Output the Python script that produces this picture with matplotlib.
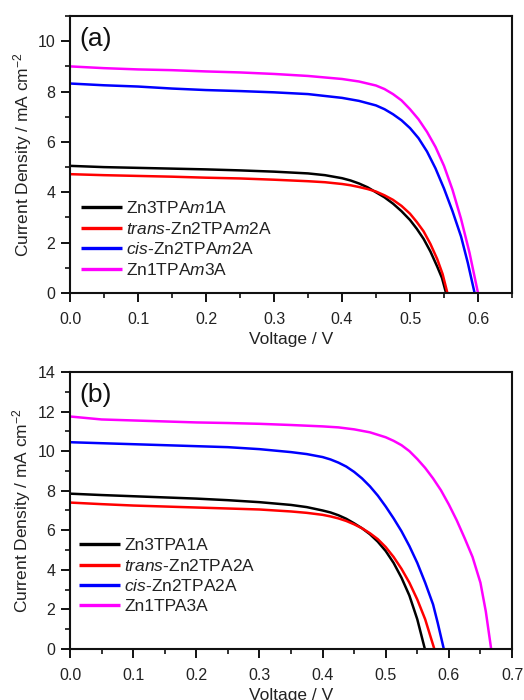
import matplotlib
matplotlib.use("Agg")
import matplotlib.pyplot as plt
from matplotlib.ticker import MultipleLocator

plt.rcParams['font.family'] = ['Liberation Sans', 'DejaVu Sans']
plt.rcParams['mathtext.fontset'] = 'custom'
plt.rcParams['mathtext.rm'] = 'Liberation Sans'
plt.rcParams['mathtext.it'] = 'Liberation Sans:italic'

# ---- Panel (a) data ----
a_labels = [r"Zn3TPA$\it{m}$1A", r"$\it{trans}$-Zn2TPA$\it{m}$2A",
            r"$\it{cis}$-Zn2TPA$\it{m}$2A", r"Zn1TPA$\it{m3}$A"]
a_black_v = [0, 0.05, 0.1, 0.15, 0.2, 0.25, 0.3, 0.35, 0.375, 0.4, 0.4125, 0.425, 0.4375, 0.45, 0.4625,
             0.475, 0.4875, 0.5, 0.51, 0.52, 0.53, 0.54, 0.547, 0.553]
a_black_j = [5.05, 5.0, 4.97, 4.94, 4.91, 4.87, 4.82, 4.75, 4.68, 4.56, 4.47, 4.35, 4.2, 4.0, 3.8,
             3.55, 3.25, 2.9, 2.55, 2.15, 1.65, 1.05, 0.6, 0]
a_red_v = [0, 0.05, 0.1, 0.15, 0.2, 0.25, 0.3, 0.35, 0.375, 0.4, 0.4125, 0.425, 0.4375, 0.45, 0.4625,
           0.475, 0.4875, 0.5, 0.51, 0.52, 0.53, 0.54, 0.548, 0.555]
a_red_j = [4.72, 4.68, 4.65, 4.62, 4.58, 4.55, 4.5, 4.44, 4.4, 4.33, 4.28, 4.21, 4.13, 4.03, 3.88,
           3.7, 3.46, 3.15, 2.82, 2.45, 1.95, 1.35, 0.75, 0]
a_blue_v = [0, 0.05, 0.1, 0.15, 0.2, 0.25, 0.3, 0.35, 0.4, 0.425, 0.45, 0.4625, 0.475, 0.4875, 0.5,
            0.5125, 0.525, 0.5375, 0.55, 0.5625, 0.575, 0.585, 0.595]
a_blue_j = [8.32, 8.25, 8.2, 8.12, 8.06, 8.02, 7.97, 7.9, 7.75, 7.63, 7.45, 7.3, 7.1, 6.86, 6.55,
            6.15, 5.62, 4.95, 4.15, 3.25, 2.25, 1.2, 0]
a_mag_v = [0, 0.05, 0.1, 0.15, 0.2, 0.25, 0.3, 0.35, 0.4, 0.425, 0.45, 0.4625, 0.475, 0.4875, 0.5,
           0.5125, 0.525, 0.5375, 0.55, 0.5625, 0.575, 0.5875, 0.6]
a_mag_j = [9.0, 8.93, 8.88, 8.85, 8.8, 8.76, 8.7, 8.62, 8.5, 8.4, 8.24, 8.1, 7.9, 7.65, 7.3,
           6.9, 6.4, 5.8, 5.05, 4.1, 2.95, 1.6, 0]

# ---- Panel (b) data ----
b_labels = ["Zn3TPA1A", r"$\it{trans}$-Zn2TPA2A", r"$\it{cis}$-Zn2TPA2A", "Zn1TPA3A"]
b_black_v = [0, 0.05, 0.1, 0.15, 0.2, 0.25, 0.3, 0.35, 0.375, 0.4, 0.4125, 0.425, 0.4375, 0.45, 0.4625,
             0.475, 0.4875, 0.5, 0.5125, 0.525, 0.5375, 0.55, 0.562]
b_black_j = [7.85, 7.78, 7.72, 7.66, 7.6, 7.52, 7.42, 7.28, 7.17, 7.0, 6.9, 6.76, 6.58, 6.35, 6.1,
             5.8, 5.42, 4.95, 4.35, 3.6, 2.7, 1.5, 0]
b_red_v = [0, 0.05, 0.1, 0.15, 0.2, 0.25, 0.3, 0.35, 0.375, 0.4, 0.4125, 0.425, 0.4375, 0.45, 0.4625,
           0.475, 0.4875, 0.5, 0.5125, 0.525, 0.5375, 0.55, 0.5625, 0.577]
b_red_j = [7.4, 7.32, 7.25, 7.2, 7.15, 7.1, 7.05, 6.95, 6.88, 6.78, 6.7, 6.6, 6.47, 6.3, 6.1,
           5.85, 5.55, 5.15, 4.65, 4.05, 3.35, 2.5, 1.5, 0]
b_blue_v = [0, 0.05, 0.1, 0.15, 0.2, 0.25, 0.3, 0.35, 0.375, 0.4, 0.4125, 0.425, 0.4375, 0.45, 0.4625,
            0.475, 0.4875, 0.5, 0.5125, 0.525, 0.5375, 0.55, 0.5625, 0.575, 0.5825, 0.592]
b_blue_j = [10.45, 10.4, 10.35, 10.3, 10.25, 10.2, 10.1, 9.95, 9.85, 9.7, 9.58, 9.42, 9.22, 8.95, 8.62,
            8.22, 7.75, 7.2, 6.6, 5.95, 5.2, 4.35, 3.35, 2.25, 1.3, 0]
b_mag_v = [0, 0.05, 0.1, 0.15, 0.2, 0.25, 0.3, 0.35, 0.4, 0.425, 0.45, 0.475, 0.5, 0.5125, 0.525,
           0.5375, 0.55, 0.5625, 0.575, 0.5875, 0.6, 0.6125, 0.625, 0.6375, 0.65, 0.6585, 0.667]
b_mag_j = [11.75, 11.6, 11.55, 11.5, 11.45, 11.42, 11.38, 11.32, 11.25, 11.2, 11.1, 10.95, 10.7, 10.52, 10.3,
           10.0, 9.6, 9.15, 8.62, 8.02, 7.3, 6.5, 5.6, 4.65, 3.35, 1.9, 0]

colors = ['#000000', '#ff0000', '#0000ff', '#ff00ff']

fig = plt.figure(figsize=(5.24, 7.0), dpi=100)
axa = fig.add_axes([0.1336, 0.5814, 0.8435, 0.3957])
axb = fig.add_axes([0.1336, 0.0729, 0.8435, 0.3957])

def style(ax, xmax, ymax, ymajor, tag):
    ax.set_xlim(0, xmax)
    ax.set_ylim(0, ymax)
    ax.xaxis.set_major_locator(MultipleLocator(0.1))
    ax.xaxis.set_minor_locator(MultipleLocator(0.05))
    ax.yaxis.set_major_locator(MultipleLocator(ymajor))
    ax.yaxis.set_minor_locator(MultipleLocator(1))
    ax.xaxis.set_major_formatter(plt.FuncFormatter(lambda v, p: f"{v:.1f}"))
    ax.tick_params(which='major', direction='out', length=6.5, width=1.4, labelsize=11.5,
                   color='#111111', labelcolor='#222222')
    ax.tick_params(axis='y', which='major', pad=4)
    ax.tick_params(axis='x', which='major', pad=7)
    ax.tick_params(which='minor', direction='out', length=3.5, width=1.2, color='#111111')
    for s in ax.spines.values():
        s.set_linewidth(1.5)
        s.set_color('#111111')
    ax.set_xlabel("Voltage / V", fontsize=12.5, labelpad=4, color='#222222')
    ax.set_ylabel(r"Current Density / mA cm$^{-2}$", fontsize=12.5, labelpad=3, color='#222222')
    ax.text(0.022, 0.962, tag, transform=ax.transAxes, fontsize=19, va='top', ha='left',
            color='#111111')

sets_a = [(a_black_v, a_black_j), (a_red_v, a_red_j), (a_blue_v, a_blue_j), (a_mag_v, a_mag_j)]
sets_b = [(b_black_v, b_black_j), (b_red_v, b_red_j), (b_blue_v, b_blue_j), (b_mag_v, b_mag_j)]

for (v, j), c, lab in zip(sets_a, colors, a_labels):
    axa.plot(v, j, color=c, lw=1.8, label=lab, solid_capstyle='butt')
for (v, j), c, lab in zip(sets_b, colors, b_labels):
    axb.plot(v, j, color=c, lw=1.8, label=lab, solid_capstyle='butt')

style(axa, 0.65, 11, 2, "(a)")
style(axb, 0.7, 14, 2, "(b)")

for ax, anchor in ((axa, (0.009, 0.195)), (axb, (0.005, 0.2635))):
    leg = ax.legend(loc='center left', bbox_to_anchor=anchor, frameon=False, fontsize=12.5,
                    handlelength=2.36, handletextpad=0.25, labelspacing=0.26, borderaxespad=0.0,
                    borderpad=0.4)
    for t in leg.get_texts():
        t.set_color('#222222')
    for h in leg.get_lines():
        h.set_linewidth(2.4)

fig.savefig("out.png", dpi=100)
